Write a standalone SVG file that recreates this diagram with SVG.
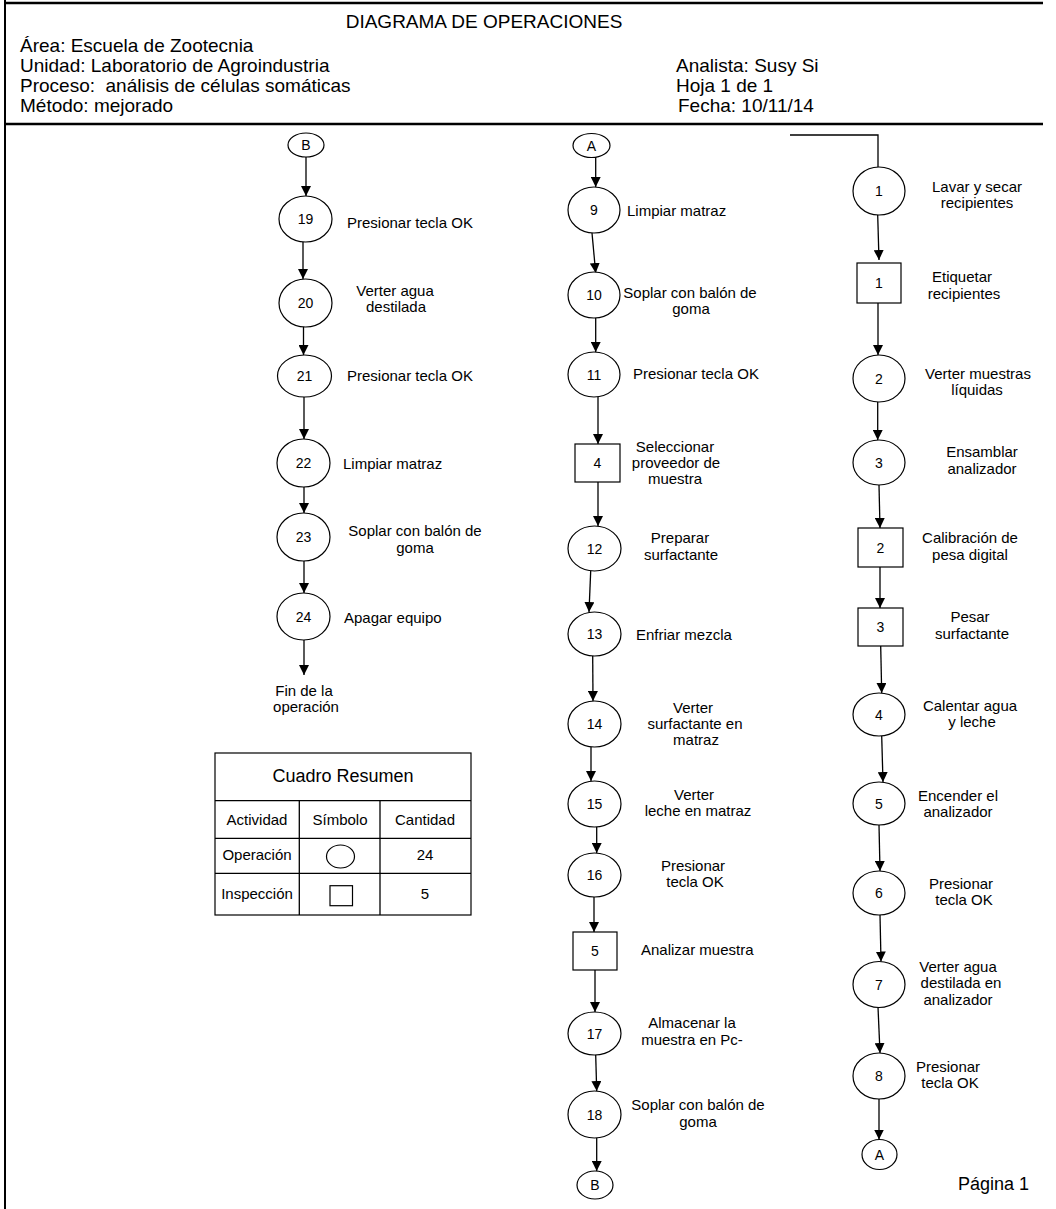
<svg xmlns="http://www.w3.org/2000/svg" width="1056" height="1209" viewBox="0 0 1056 1209">
<style>
.sh{fill:#fff;stroke:#000;stroke-width:1.2}
.ln{fill:none;stroke:#000;stroke-width:1.3}
.fr{fill:none;stroke:#000}
text{font-family:"Liberation Sans",Arial,sans-serif;fill:#000}
.t{font-size:15px}
.m{font-size:15px;text-anchor:middle}
.num{font-size:14px;text-anchor:middle}
.h{font-size:19px}
</style>
<defs>
<marker id="ar" markerUnits="userSpaceOnUse" markerWidth="10" markerHeight="10" refX="10" refY="5" orient="auto">
<path d="M0,0 L10,5 L0,10 Z" fill="#000"/>
</marker>
</defs>
<rect width="1056" height="1209" fill="#fff"/>
<g id="frame">
<line class="fr" x1="5" y1="0" x2="5" y2="1209" stroke-width="2"/>
<line class="fr" x1="4" y1="3" x2="1043" y2="3" stroke-width="2.5"/>
<line class="fr" x1="4" y1="124" x2="1043" y2="124" stroke-width="2.5"/>
</g>
<g id="header">
<text class="h" x="484" y="28" text-anchor="middle">DIAGRAMA DE OPERACIONES</text>
<text class="h" x="20" y="52">Área: Escuela de Zootecnia</text>
<text class="h" x="20" y="72">Unidad: Laboratorio de Agroindustria</text>
<text class="h" x="20" y="92" xml:space="preserve">Proceso:  análisis de células somáticas</text>
<text class="h" x="20" y="112">Método: mejorado</text>
<text class="h" x="676" y="72">Analista: Susy Si</text>
<text class="h" x="676" y="92">Hoja 1 de 1</text>
<text class="h" x="678" y="112">Fecha: 10/11/14</text>
</g>
<g id="connectors">
<line class="ln" x1="306" y1="157" x2="306" y2="196" marker-end="url(#ar)"/>
<line class="ln" x1="303" y1="242" x2="303" y2="279" marker-end="url(#ar)"/>
<line class="ln" x1="303.5" y1="311" x2="303.5" y2="355" marker-end="url(#ar)"/>
<line class="ln" x1="304" y1="397" x2="304" y2="439" marker-end="url(#ar)"/>
<line class="ln" x1="304" y1="487" x2="304" y2="513" marker-end="url(#ar)"/>
<line class="ln" x1="304" y1="561" x2="304" y2="593" marker-end="url(#ar)"/>
<line class="ln" x1="304" y1="640" x2="304" y2="675" marker-end="url(#ar)"/>
<line class="ln" x1="595.7" y1="157" x2="595.7" y2="187" marker-end="url(#ar)"/>
<line class="ln" x1="592" y1="233" x2="595.7" y2="273" marker-end="url(#ar)"/>
<line class="ln" x1="595.7" y1="318" x2="595.7" y2="352" marker-end="url(#ar)"/>
<line class="ln" x1="598" y1="397" x2="598" y2="444" marker-end="url(#ar)"/>
<line class="ln" x1="598" y1="482" x2="598" y2="526" marker-end="url(#ar)"/>
<line class="ln" x1="590.7" y1="571" x2="589" y2="612" marker-end="url(#ar)"/>
<line class="ln" x1="592.7" y1="656" x2="593" y2="701" marker-end="url(#ar)"/>
<line class="ln" x1="591" y1="747" x2="591" y2="781" marker-end="url(#ar)"/>
<line class="ln" x1="596.7" y1="827" x2="596.7" y2="853" marker-end="url(#ar)"/>
<line class="ln" x1="594" y1="897" x2="594" y2="932" marker-end="url(#ar)"/>
<line class="ln" x1="595" y1="970" x2="595" y2="1012" marker-end="url(#ar)"/>
<line class="ln" x1="595.7" y1="1055" x2="596.7" y2="1091" marker-end="url(#ar)"/>
<line class="ln" x1="596.7" y1="1138" x2="596.7" y2="1171" marker-end="url(#ar)"/>
<polyline class="ln" points="790,135 878,135 878,167"/>
<line class="ln" x1="877.7" y1="215" x2="879" y2="260" marker-end="url(#ar)"/>
<line class="ln" x1="878" y1="303" x2="878" y2="355" marker-end="url(#ar)"/>
<line class="ln" x1="877.7" y1="402" x2="877.7" y2="440" marker-end="url(#ar)"/>
<line class="ln" x1="879" y1="485" x2="880" y2="528" marker-end="url(#ar)"/>
<line class="ln" x1="880" y1="567" x2="880" y2="608" marker-end="url(#ar)"/>
<line class="ln" x1="880.7" y1="646" x2="881.7" y2="693" marker-end="url(#ar)"/>
<line class="ln" x1="881.7" y1="736" x2="883" y2="782" marker-end="url(#ar)"/>
<line class="ln" x1="879" y1="825" x2="880" y2="871" marker-end="url(#ar)"/>
<line class="ln" x1="880" y1="915" x2="881" y2="961.5" marker-end="url(#ar)"/>
<line class="ln" x1="878" y1="1007" x2="880" y2="1053" marker-end="url(#ar)"/>
<line class="ln" x1="879" y1="1099" x2="879" y2="1139.5" marker-end="url(#ar)"/>
</g>
<g id="conB1"><ellipse class="sh" cx="306" cy="145" rx="18" ry="12"/><text class="num" x="306" y="150">B</text></g>
<g id="op19"><ellipse class="sh" cx="305.5" cy="219" rx="26.5" ry="23"/><text class="num" x="305.5" y="224">19</text><text class="t" x="347" y="228">Presionar tecla OK</text></g>
<g id="op20"><ellipse class="sh" cx="305.5" cy="303" rx="26.5" ry="24"/><text class="num" x="305.5" y="308">20</text><text class="m" x="395" y="296">Verter agua</text><text class="m" x="396" y="312">destilada</text></g>
<g id="op21"><ellipse class="sh" cx="304.5" cy="376" rx="27" ry="21"/><text class="num" x="304.5" y="381">21</text><text class="t" x="347" y="381">Presionar tecla OK</text></g>
<g id="op22"><ellipse class="sh" cx="303.5" cy="463" rx="26.5" ry="24"/><text class="num" x="303.5" y="468">22</text><text class="t" x="343" y="469">Limpiar matraz</text></g>
<g id="op23"><ellipse class="sh" cx="303.5" cy="537" rx="26.5" ry="24"/><text class="num" x="303.5" y="542">23</text><text class="m" x="415" y="536">Soplar con balón de</text><text class="m" x="415" y="553">goma</text></g>
<g id="op24"><ellipse class="sh" cx="303.5" cy="616.5" rx="26.5" ry="23.5"/><text class="num" x="303.5" y="621.5">24</text><text class="t" x="344" y="623">Apagar equipo</text></g>
<g id="fin"><text class="m" x="304" y="696">Fin de la</text><text class="m" x="306" y="712">operación</text></g>
<g id="conA1"><ellipse class="sh" cx="591.5" cy="145.5" rx="18.5" ry="12"/><text class="num" x="591.5" y="150.5">A</text></g>
<g id="op9"><ellipse class="sh" cx="594" cy="210" rx="26" ry="23"/><text class="num" x="594" y="215">9</text><text class="t" x="627" y="216">Limpiar matraz</text></g>
<g id="op10"><ellipse class="sh" cx="594" cy="295" rx="26" ry="23"/><text class="num" x="594" y="300">10</text><text class="m" x="690" y="298">Soplar con balón de</text><text class="m" x="691" y="314">goma</text></g>
<g id="op11"><ellipse class="sh" cx="594" cy="374.5" rx="26" ry="22.5"/><text class="num" x="594" y="379.5">11</text><text class="t" x="633" y="379">Presionar tecla OK</text></g>
<g id="insp4"><rect class="sh" x="575" y="444" width="45" height="38"/><text class="num" x="597.5" y="468">4</text><text class="m" x="675" y="452">Seleccionar</text><text class="m" x="676" y="468">proveedor de</text><text class="m" x="675" y="484">muestra</text></g>
<g id="op12"><ellipse class="sh" cx="594.5" cy="548.5" rx="26.5" ry="22.5"/><text class="num" x="594.5" y="553.5">12</text><text class="m" x="680" y="543">Preparar</text><text class="m" x="681" y="560">surfactante</text></g>
<g id="op13"><ellipse class="sh" cx="594.5" cy="634" rx="26.5" ry="22"/><text class="num" x="594.5" y="639">13</text><text class="t" x="636" y="640">Enfriar mezcla</text></g>
<g id="op14"><ellipse class="sh" cx="594.5" cy="724" rx="26.5" ry="23"/><text class="num" x="594.5" y="729">14</text><text class="m" x="693" y="713">Verter</text><text class="m" x="695" y="729">surfactante en</text><text class="m" x="696" y="745">matraz</text></g>
<g id="op15"><ellipse class="sh" cx="594.5" cy="804" rx="26.5" ry="23"/><text class="num" x="594.5" y="809">15</text><text class="m" x="694" y="800">Verter</text><text class="m" x="698" y="816">leche en matraz</text></g>
<g id="op16"><ellipse class="sh" cx="594.5" cy="875" rx="26.5" ry="22"/><text class="num" x="594.5" y="880">16</text><text class="m" x="693" y="871">Presionar</text><text class="m" x="695" y="887">tecla OK</text></g>
<g id="insp5"><rect class="sh" x="573" y="932" width="44" height="38"/><text class="num" x="595" y="956">5</text><text class="t" x="641" y="955">Analizar muestra</text></g>
<g id="op17"><ellipse class="sh" cx="594.5" cy="1033.5" rx="26.5" ry="21.5"/><text class="num" x="594.5" y="1038.5">17</text><text class="m" x="692" y="1028">Almacenar la</text><text class="m" x="692" y="1045">muestra en Pc-</text></g>
<g id="op18"><ellipse class="sh" cx="594.5" cy="1114.5" rx="26.5" ry="23.5"/><text class="num" x="594.5" y="1119.5">18</text><text class="m" x="698" y="1110">Soplar con balón de</text><text class="m" x="698" y="1127">goma</text></g>
<g id="conB2"><ellipse class="sh" cx="595" cy="1185" rx="18" ry="14"/><text class="num" x="595" y="1190">B</text></g>
<g id="op1"><ellipse class="sh" cx="879" cy="191" rx="26" ry="24"/><text class="num" x="879" y="196">1</text><text class="m" x="977" y="192">Lavar y secar</text><text class="m" x="977" y="208">recipientes</text></g>
<g id="insp1"><rect class="sh" x="857" y="263" width="44" height="40"/><text class="num" x="879" y="288">1</text><text class="m" x="962" y="282">Etiquetar</text><text class="m" x="964" y="299">recipientes</text></g>
<g id="op2"><ellipse class="sh" cx="879" cy="378.5" rx="26" ry="23.5"/><text class="num" x="879" y="383.5">2</text><text class="m" x="978" y="379">Verter muestras</text><text class="m" x="977" y="395">líquidas</text></g>
<g id="op3"><ellipse class="sh" cx="879" cy="462.5" rx="26" ry="22.5"/><text class="num" x="879" y="467.5">3</text><text class="m" x="982" y="457">Ensamblar</text><text class="m" x="982" y="474">analizador</text></g>
<g id="insp2"><rect class="sh" x="858" y="528" width="45" height="39"/><text class="num" x="880.5" y="552.5">2</text><text class="m" x="970" y="543">Calibración de</text><text class="m" x="970" y="560">pesa digital</text></g>
<g id="insp3"><rect class="sh" x="858" y="608" width="45" height="38"/><text class="num" x="880.5" y="632">3</text><text class="m" x="970" y="622">Pesar</text><text class="m" x="972" y="639">surfactante</text></g>
<g id="op4"><ellipse class="sh" cx="879" cy="714.5" rx="26" ry="21.5"/><text class="num" x="879" y="719.5">4</text><text class="m" x="970" y="711">Calentar agua</text><text class="m" x="972" y="727">y leche</text></g>
<g id="op5"><ellipse class="sh" cx="879" cy="803.5" rx="26" ry="21.5"/><text class="num" x="879" y="808.5">5</text><text class="m" x="958" y="801">Encender el</text><text class="m" x="958" y="817">analizador</text></g>
<g id="op6"><ellipse class="sh" cx="879" cy="893" rx="26" ry="22"/><text class="num" x="879" y="898">6</text><text class="m" x="961" y="889">Presionar</text><text class="m" x="964" y="905">tecla OK</text></g>
<g id="op7"><ellipse class="sh" cx="879" cy="984.5" rx="26" ry="23"/><text class="num" x="879" y="989.5">7</text><text class="m" x="958" y="972">Verter agua</text><text class="m" x="961" y="988">destilada en</text><text class="m" x="958" y="1005">analizador</text></g>
<g id="op8"><ellipse class="sh" cx="879" cy="1076" rx="26" ry="23"/><text class="num" x="879" y="1081">8</text><text class="m" x="948" y="1072">Presionar</text><text class="m" x="950" y="1088">tecla OK</text></g>
<g id="conA2"><ellipse class="sh" cx="879.5" cy="1154.5" rx="17.5" ry="15"/><text class="num" x="879.5" y="1159.5">A</text></g>
<g id="page"><text x="958" y="1190" font-size="18">Página 1</text></g>
<g id="resumen">
<rect class="sh" x="215" y="753" width="256" height="162"/>
<line class="ln" x1="215" y1="800.7" x2="471" y2="800.7"/>
<line class="ln" x1="215" y1="838.3" x2="471" y2="838.3"/>
<line class="ln" x1="215" y1="873.3" x2="471" y2="873.3"/>
<line class="ln" x1="299.3" y1="800.7" x2="299.3" y2="915"/>
<line class="ln" x1="380" y1="800.7" x2="380" y2="915"/>
<text x="343" y="782" font-size="18" text-anchor="middle">Cuadro Resumen</text>
<text class="m" x="257" y="825">Actividad</text>
<text class="m" x="340" y="825">Símbolo</text>
<text class="m" x="425" y="825">Cantidad</text>
<text class="m" x="257" y="860">Operación</text>
<ellipse class="sh" cx="340.5" cy="856.5" rx="14" ry="11.5"/>
<text class="m" x="425" y="860">24</text>
<text class="m" x="257" y="899">Inspección</text>
<rect class="sh" x="330" y="885.7" width="22.5" height="20"/>
<text class="m" x="425" y="899">5</text>
</g>
</svg>
